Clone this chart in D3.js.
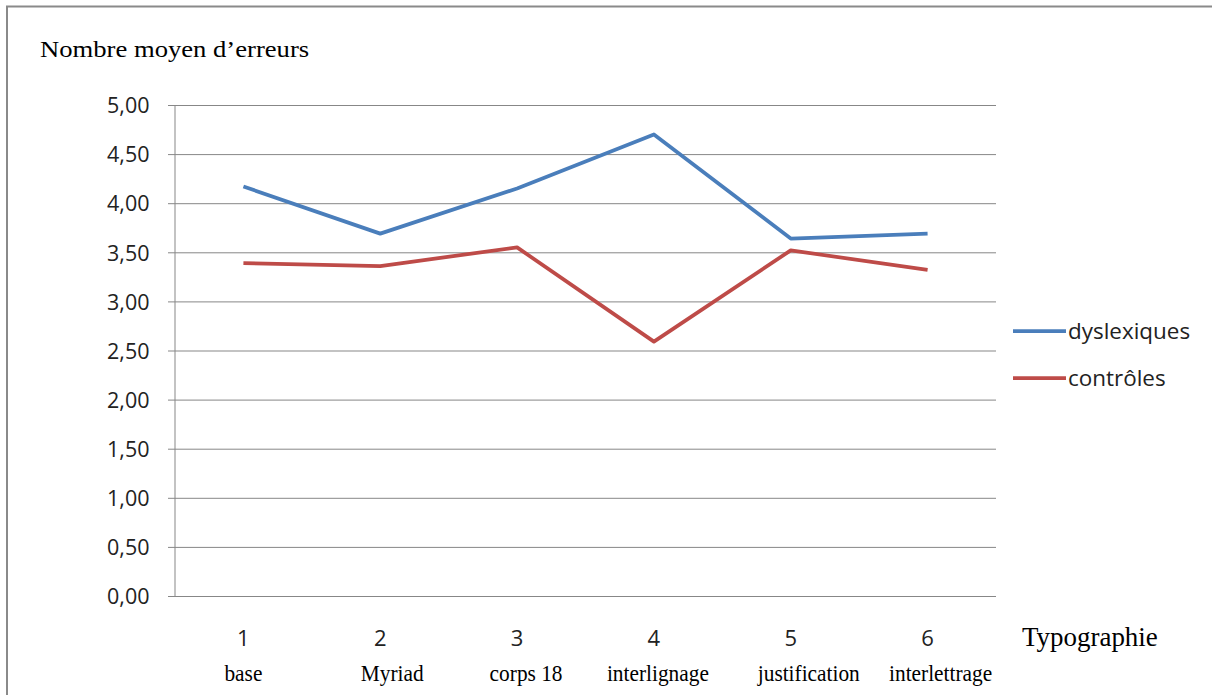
<!DOCTYPE html>
<html>
<head>
<meta charset="utf-8">
<script src="https://cdn.jsdelivr.net/npm/d3@7"></script>
<style>
  body { margin: 0; background: #fff; }
</style>
</head>
<body>
<div id="chart"></div>
<script>
// Data
const categories = ["1", "2", "3", "4", "5", "6"];
const categoryNames = ["base", "Myriad", "corps 18", "interlignage", "justification", "interlettrage"];
const dyslexiques = [4.17, 3.69, 4.15, 4.70, 3.64, 3.69];
const controles = [3.39, 3.36, 3.55, 2.59, 3.52, 3.32];
const yTicks = [0, 0.5, 1, 1.5, 2, 2.5, 3, 3.5, 4, 4.5, 5];

const width = 1212;
const height = 695;

const sansFont = "'Open Sans', 'DejaVu Sans', sans-serif";
const serifFont = "'Liberation Serif', serif";

const svg = d3.select("#chart")
  .append("svg")
  .attr("width", width)
  .attr("height", height);

// Outer frame
svg.append("rect")
  .attr("x", 7)
  .attr("y", 6.5)
  .attr("width", width + 10)
  .attr("height", height + 10)
  .attr("fill", "none")
  .attr("stroke", "#8a8a8a")
  .attr("stroke-width", 2);

const plot = { left: 175, right: 996, top: 105, bottom: 596 };

const x = d3.scalePoint()
  .domain(categories)
  .range([plot.left, plot.right])
  .padding(0.5);

const y = d3.scaleLinear()
  .domain([0, 5])
  .range([plot.bottom, plot.top]);

// Gridlines + y ticks
const yAxis = d3.axisLeft(y)
  .tickValues(yTicks)
  .tickSize(-(plot.right - plot.left))
  .tickFormat((d) => d3.format(".2f")(d).replace(".", ","));

const gy = svg.append("g")
  .attr("transform", `translate(${plot.left},0)`)
  .call(yAxis);

gy.select(".domain").remove();
gy.selectAll(".tick line")
  .attr("x1", -7)
  .attr("stroke", "#878787")
  .attr("stroke-width", 1);
gy.selectAll(".tick text")
  .attr("font-family", sansFont)
  .attr("font-size", 21.5)
  .attr("fill", "#222")
  .attr("dy", "0.36em")
  .attr("x", -25.5);

// Vertical axis line
svg.append("line")
  .attr("x1", plot.left).attr("x2", plot.left)
  .attr("y1", plot.top).attr("y2", plot.bottom)
  .attr("stroke", "#878787");

// helper: text with a horizontal stretch (the original is not evenly scaled)
function addText(parent, tx, ty, str, font, size, stretch, anchor) {
  return parent.append("text")
    .attr("transform", `translate(${tx},${ty}) scale(${stretch},1)`)
    .attr("text-anchor", anchor || "start")
    .attr("font-family", font)
    .attr("font-size", size)
    .attr("fill", font === sansFont ? "#222" : "#000")
    .text(str);
}

// X category numbers
const gx = svg.append("g");
categories.forEach((c) => addText(gx, x(c), 646, c, sansFont, 22, 1, "middle"));

// Category names (hand placed text boxes in the original, slightly off the ticks)
const nameNudge = [0, 12, 9, 4, 18, 13];
categoryNames.forEach((n, i) =>
  addText(gx, x(categories[i]) + nameNudge[i], 681, n, serifFont, 24, 0.89, "middle"));

// Titles
addText(svg, 40, 57, "Nombre moyen d\u2019erreurs", serifFont, 24, 1.11);
addText(svg, 1022, 646, "Typographie", serifFont, 27.5, 0.98);

// Lines
const series = [
  { name: "dyslexiques", values: dyslexiques, color: "#4a7ebb" },
  { name: "contrôles", values: controles, color: "#be4b48" }
];

const line = d3.line()
  .x((d, i) => x(categories[i]))
  .y((d) => y(d));

svg.append("g")
  .selectAll("path")
  .data(series)
  .enter()
  .append("path")
  .attr("d", (d) => line(d.values))
  .attr("fill", "none")
  .attr("stroke", (d) => d.color)
  .attr("stroke-width", 3.75)
  .attr("stroke-linejoin", "round");

// Legend
const legend = svg.append("g")
  .selectAll("g")
  .data(series)
  .enter()
  .append("g")
  .attr("transform", (d, i) => `translate(1013,${331 + i * 47})`);

legend.append("line")
  .attr("x1", 0).attr("x2", 53)
  .attr("stroke", (d) => d.color)
  .attr("stroke-width", 3.75);

legend.each(function (d) {
  addText(d3.select(this), 55, 7.5, d.name, sansFont, 22, 1.02);
});
</script>
</body>
</html>
